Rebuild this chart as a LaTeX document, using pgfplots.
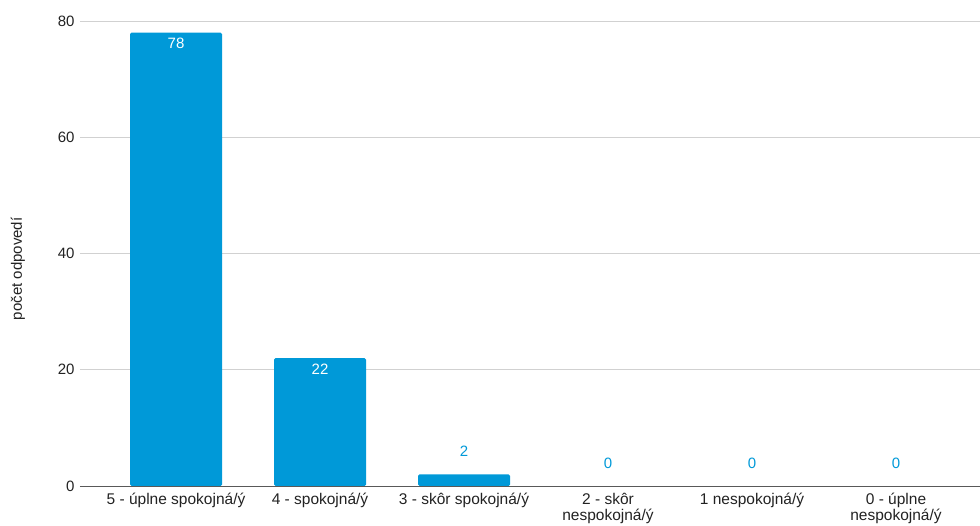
\documentclass[border=0pt]{standalone}
\usepackage{pgfplots}
\pgfplotsset{compat=1.18}
\usepackage{fontspec}
\setmainfont{Liberation Sans}
\definecolor{barblue}{HTML}{0099D8}
\definecolor{txt}{HTML}{222222}
\begin{document}
\begin{tikzpicture}[x=1pt,y=1pt]
\path[use as bounding box] (0,0) rectangle (980,526);
\begin{axis}[
  at={(80pt,40pt)}, anchor=south west,
  scale only axis, width=900pt, height=465pt,
  xmin=-0.6667, xmax=5.5833, ymin=0, ymax=80,
  axis x line*=bottom, axis y line*=left,
  x axis line style={color=black!65, line width=0.8pt},
  y axis line style={draw=none},
  ytick={0,20,40,60,80},
  ymajorgrids, grid style={color=black!18, line width=0.8pt},
  xtick={0,1,2,3,4,5},
  xticklabels={5 - úplne spokojná/ý, 4 - spokojná/ý, 3 - skôr spokojná/ý, 2 - skôr\\nespokojná/ý, 1 nespokojná/ý, 0 - úplne\\nespokojná/ý},
  xticklabel style={font=\fontsize{15.5}{15.5}\selectfont, text=txt, align=center, anchor=north, yshift=-4pt},
  yticklabel style={font=\fontsize{15}{16}\selectfont, text=txt, xshift=-2pt},
  /pgf/number format/assume math mode=true,
  major tick length=0pt,
  ylabel={počet odpovedí},
  ylabel style={font=\fontsize{15}{16}\selectfont, text=txt, at={(axis description cs:-0.069,0.467)}, anchor=center, rotate=0},
  clip=false,
]
\addplot[ybar, bar width=92pt, bar shift=0pt, fill=barblue, draw=none, rounded corners=1.5pt,
  nodes near coords, nodes near coords style={font=\fontsize{15}{16}\selectfont, text=white, anchor=center, yshift=-11pt, rounded corners=0pt}]
  coordinates {(0,78) (1,22)};
\addplot[ybar, bar width=92pt, bar shift=0pt, fill=barblue, draw=none, rounded corners=1.5pt,
  nodes near coords, nodes near coords style={font=\fontsize{15}{16}\selectfont, text=barblue, anchor=center, yshift=23pt, rounded corners=0pt}]
  coordinates {(2,2)};
\addplot[ybar, bar width=92pt, bar shift=0pt, fill=none, draw=none,
  nodes near coords, nodes near coords style={font=\fontsize{15}{16}\selectfont, text=barblue, anchor=center, yshift=23pt}]
  coordinates {(3,0) (4,0) (5,0)};
\end{axis}
\end{tikzpicture}
\end{document}
